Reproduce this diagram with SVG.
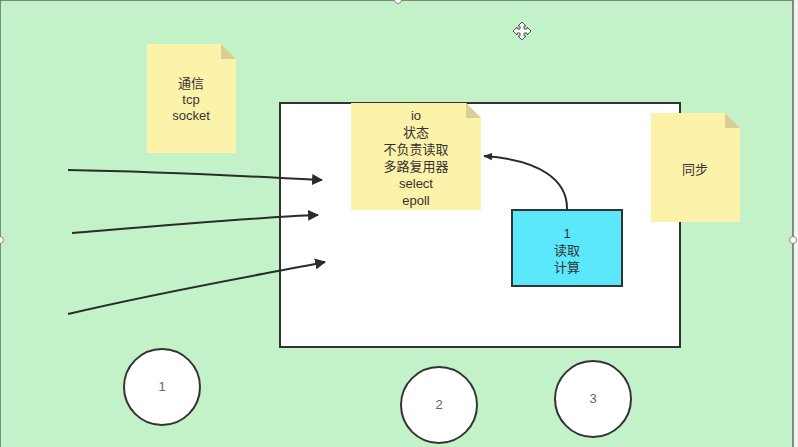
<svg xmlns="http://www.w3.org/2000/svg" width="798" height="447" viewBox="0 0 798 447">
<defs>
<style>
.t{font-family:"Liberation Sans","Noto Sans CJK SC",sans-serif;font-size:13px;fill:#333;text-anchor:middle}
.tg{font-family:"Liberation Sans","Noto Sans CJK SC",sans-serif;font-size:13px;fill:#666;text-anchor:middle}
.note{fill:#fdf2a9}
.ear{fill:#d9cf95}
.circ{fill:#fff;stroke:#333;stroke-width:2}
.conn{fill:none;stroke:#2b2b2b;stroke-width:2}
</style>
<marker id="ah" viewBox="0 0 10 10" refX="9" refY="5" markerWidth="9" markerHeight="9" markerUnits="userSpaceOnUse" orient="auto">
<path d="M0,1 L10,5 L0,9 z" fill="#2b2b2b"/>
</marker>
<marker id="ah2" viewBox="0 0 10 10" refX="9" refY="5" markerWidth="11" markerHeight="11" markerUnits="userSpaceOnUse" orient="auto">
<path d="M0,0 L10,5 L0,10 z" fill="#2b2b2b"/>
</marker>
</defs>
<rect x="0" y="0" width="798" height="447" fill="#f2f4f2"/>
<rect id="background" x="0" y="0" width="793" height="460" fill="#c4f2c8" stroke="#666" stroke-width="1.5"/>
<g id="frame">
<rect x="280" y="103" width="400" height="244" fill="#fff" stroke="#333" stroke-width="2"/>
</g>
<g id="note-tcp">
<path class="note" d="M147,44 H221 L236,59 V153 H147 Z"/>
<path class="ear" d="M221,44 L236,59 H221 Z"/>
<text class="t" x="191" y="88">通信</text>
<text class="t" x="191" y="104">tcp</text>
<text class="t" x="191" y="120">socket</text>
</g>
<g id="note-io">
<path class="note" d="M351,103 H466 L481,118 V210 H351 Z"/>
<path class="ear" d="M466,103 L481,118 H466 Z"/>
<text class="t" x="416" y="120">io</text>
<text class="t" x="416" y="137">状态</text>
<text class="t" x="416" y="154">不负责读取</text>
<text class="t" x="416" y="171">多路复用器</text>
<text class="t" x="416" y="188">select</text>
<text class="t" x="416" y="205">epoll</text>
</g>
<g id="note-sync">
<path class="note" d="M651,113 H725 L740,128 V222 H651 Z"/>
<path class="ear" d="M725,113 L740,128 H725 Z"/>
<text class="t" x="695" y="174">同步</text>
</g>
<g id="worker">
<rect x="512" y="210" width="110" height="76" fill="#5ce8fc" stroke="#333" stroke-width="2"/>
<text class="t" x="567" y="238">1</text>
<text class="t" x="567" y="255">读取</text>
<text class="t" x="567" y="272">计算</text>
</g>
<g id="circle-1">
<circle class="circ" cx="162" cy="387" r="38"/>
<text class="tg" x="162" y="391">1</text>
</g>
<g id="circle-2">
<circle class="circ" cx="439" cy="405" r="38"/>
<text class="tg" x="439" y="409">2</text>
</g>
<g id="circle-3">
<circle class="circ" cx="593" cy="399" r="38"/>
<text class="tg" x="593" y="403">3</text>
</g>
<g id="connectors">
<path class="conn" d="M68,170 C180,172 260,177 322,180" marker-end="url(#ah2)"/>
<path class="conn" d="M72,233 C180,224 260,217 318,215" marker-end="url(#ah2)"/>
<path class="conn" d="M68,314 C170,290 260,275 325,262" marker-end="url(#ah2)"/>
<path class="conn" d="M567,210 C568,180 540,160 484,156" marker-end="url(#ah)"/>
</g>
<g id="handles" fill="#fff" stroke="#888" stroke-width="1">
<circle cx="398" cy="0" r="3.5"/>
<circle cx="0" cy="240" r="3.5"/>
<circle cx="793" cy="240" r="3.5"/>
</g>
<g id="cursor" fill="#fff" stroke="#555" stroke-width="1">
<path d="M522,22 L526,26 H524 V29 H527 V27 L531,31 L527,35 V33 H524 V36 H526 L522,40 L518,36 H520 V33 H517 V35 L513,31 L517,27 V29 H520 V26 H518 Z"/>
</g>
</svg>
